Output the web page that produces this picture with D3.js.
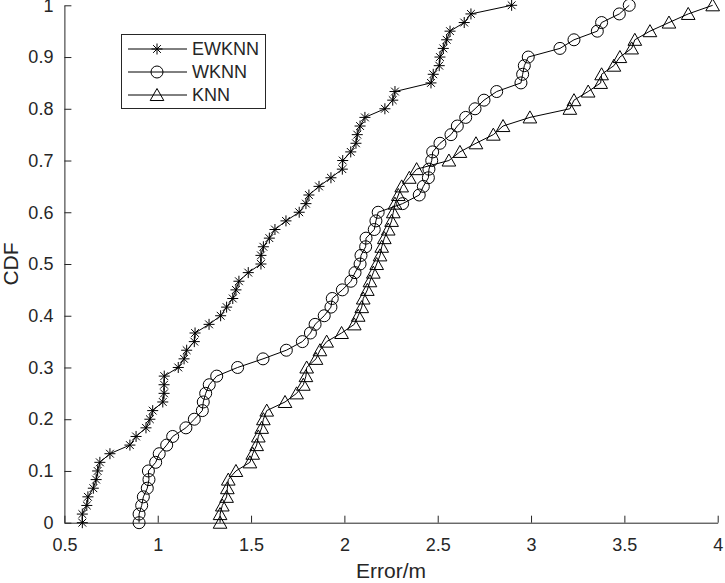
<!DOCTYPE html>
<html><head><meta charset="utf-8">
<script src="https://cdn.jsdelivr.net/npm/d3@7"></script>
<style>body{margin:0;background:#fff}svg{display:block}text{font-family:"Liberation Sans",Arial,Helvetica,sans-serif;fill:#262626}</style>
</head><body>
<svg id="c" width="725" height="583"></svg>
<script>
const seriesNames = ["EWKNN", "WKNN", "KNN"];
const markerTypes = ["asterisk", "circle", "triangle"];
const ewknn = [0.596,0.596,0.62,0.626,0.655,0.67,0.678,0.69,0.744,0.851,0.884,0.937,0.958,0.973,1.027,1.034,1.034,1.035,1.11,1.141,1.155,1.196,1.2,1.275,1.337,1.369,1.402,1.419,1.435,1.485,1.553,1.553,1.566,1.598,1.628,1.687,1.758,1.794,1.81,1.864,1.928,1.989,1.991,2.034,2.062,2.069,2.084,2.11,2.217,2.259,2.271,2.464,2.476,2.508,2.512,2.53,2.548,2.566,2.642,2.678,2.896];
const wknn = [0.9,0.9,0.914,0.923,0.944,0.953,0.95,0.989,1.008,1.048,1.08,1.151,1.196,1.239,1.244,1.257,1.276,1.316,1.428,1.564,1.689,1.775,1.818,1.843,1.892,1.928,1.935,1.989,2.035,2.057,2.084,2.089,2.114,2.116,2.16,2.169,2.181,2.312,2.401,2.423,2.45,2.453,2.468,2.473,2.512,2.571,2.605,2.65,2.7,2.748,2.816,2.946,2.955,2.964,2.985,3.155,3.23,3.355,3.378,3.473,3.526];
const knn = [1.334,1.334,1.346,1.369,1.373,1.378,1.419,1.494,1.509,1.53,1.539,1.557,1.566,1.584,1.682,1.744,1.78,1.794,1.798,1.848,1.869,1.905,1.985,2.053,2.074,2.093,2.101,2.123,2.137,2.155,2.173,2.191,2.2,2.214,2.235,2.253,2.262,2.271,2.289,2.307,2.348,2.387,2.56,2.619,2.705,2.798,2.85,2.994,3.208,3.23,3.306,3.373,3.378,3.444,3.476,3.539,3.556,3.637,3.739,3.842,3.973];
const xTicks = [0.5,1,1.5,2,2.5,3,3.5,4];
const yTicks = [0,0.1,0.2,0.3,0.4,0.5,0.6,0.7,0.8,0.9,1];
const xLabel = "Error/m", yLabel = "CDF";

const svg = d3.select("#c");
const L = 64.4, R = 717.7, T = 5.3, B = 522.7;
const x = d3.scaleLinear().domain([0.5,4]).range([L,R]);
const y = d3.scaleLinear().domain([0,1]).range([B,T]);
const ax = "#262626";

// axes
const gx = svg.append("g").attr("transform",`translate(0,${B})`)
  .call(d3.axisBottom(x).tickValues(xTicks).tickFormat(d3.format("")).tickSizeInner(-7).tickSizeOuter(0).tickPadding(16));
const gy = svg.append("g").attr("transform",`translate(${L},0)`)
  .call(d3.axisLeft(y).tickValues(yTicks).tickFormat(d3.format("")).tickSizeInner(-7).tickSizeOuter(0).tickPadding(11));
[gx,gy].forEach(g=>{
  g.select(".domain").attr("stroke",ax).attr("stroke-width",1);
  g.selectAll(".tick line").attr("stroke",ax);
  g.selectAll(".tick text").attr("font-size",18).attr("fill",ax).style("font-family","'Liberation Sans',Arial,sans-serif");
});

svg.append("text").attr("x",(L+R)/2).attr("y",578).attr("text-anchor","middle").attr("font-size",21).text(xLabel);
svg.append("text").attr("transform",`translate(17.5,${(T+B)/2}) rotate(-90)`).attr("text-anchor","middle").attr("font-size",21).text(yLabel);

function marker(g, type, cx, cy){
  if(type==="circle"){
    g.append("circle").attr("cx",cx).attr("cy",cy).attr("r",6).attr("fill","none").attr("stroke","#000").attr("stroke-width",1);
  } else if(type==="triangle"){
    const h=6.5;
    g.append("path").attr("d",`M${cx},${cy-h}L${cx+h*1.05},${cy+h*0.85}L${cx-h*1.05},${cy+h*0.85}Z`).attr("fill","none").attr("stroke","#000").attr("stroke-width",1);
  } else {
    const a=5.5, d=a*0.7071;
    g.append("path").attr("d",`M${cx-a},${cy}H${cx+a}M${cx},${cy-a}V${cy+a}M${cx-d},${cy-d}L${cx+d},${cy+d}M${cx-d},${cy+d}L${cx+d},${cy-d}`).attr("stroke","#000").attr("stroke-width",1).attr("fill","none");
  }
}

const allSeries = [ewknn, wknn, knn];
const line = d3.line().x(d=>x(d[0])).y(d=>y(d[1]));
allSeries.forEach((vals,si)=>{
  const n = vals.length-1;
  const pts = vals.map((v,i)=>[v,i/n]);
  const g = svg.append("g");
  g.append("path").datum(pts).attr("d",line).attr("fill","none").attr("stroke","#000").attr("stroke-width",1);
  pts.forEach(p=>marker(g, markerTypes[si], x(p[0]), y(p[1])));
});

// legend
const lg = svg.append("g");
lg.append("rect").attr("x",121.5).attr("y",34.5).attr("width",144).attr("height",74).attr("fill","#fff").attr("stroke",ax).attr("stroke-width",1);
seriesNames.forEach((name,i)=>{
  const yy = 49 + i*23;
  lg.append("line").attr("x1",128).attr("x2",187).attr("y1",yy).attr("y2",yy).attr("stroke","#000").attr("stroke-width",1);
  marker(lg, markerTypes[i], 157, yy);
  lg.append("text").attr("x",192).attr("y",yy).attr("dy","0.35em").attr("font-size",18).text(name);
});
</script>
</body></html>
